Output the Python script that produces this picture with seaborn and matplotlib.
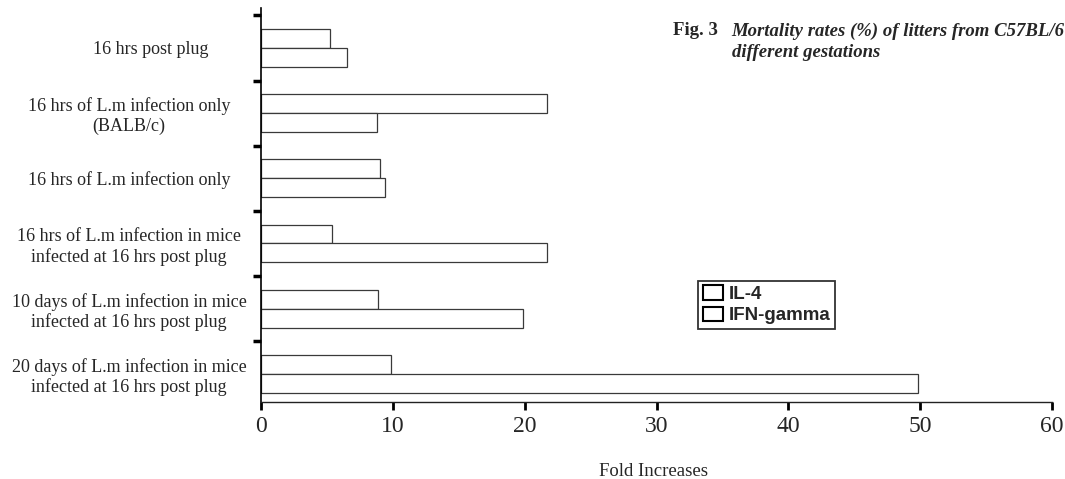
import numpy as np
import pandas as pd
import seaborn as sns
import matplotlib.pyplot as plt
import matplotlib.transforms as mtransforms
from matplotlib.patches import Patch

# values (fold increase)
groups = ["16 hrs post plug",
          "16 hrs of L.m infection only\n(BALB/c)",
          "16 hrs of L.m infection only",
          "16 hrs of L.m infection in mice\ninfected at 16 hrs post plug",
          "10 days of L.m infection in mice\ninfected at 16 hrs post plug",
          "20 days of L.m infection in mice\ninfected at 16 hrs post plug"]
il4 = [5.2, 21.7, 9.0, 5.4, 8.9, 9.9]
ifn = [6.5, 8.8, 9.4, 21.7, 19.9, 49.8]
series = ["IL-4", "IFN-gamma"]

df = pd.DataFrame({
    "group": groups * 2,
    "cytokine": [series[0]] * len(groups) + [series[1]] * len(groups),
    "fold": il4 + ifn,
})

sns.set_style("white")
plt.rcParams["font.family"] = ["Liberation Serif", "DejaVu Serif"]

fig = plt.figure(figsize=(10.65, 4.79), dpi=100)
ax = fig.add_axes([0.245, 0.161, 0.743, 0.822])

sns.barplot(data=df, y="group", x="fold", hue="cytokine", order=groups,
            hue_order=series, orient="h", width=0.58,
            palette={"IL-4": "white", "IFN-gamma": "white"},
            edgecolor="#3a3a3a", linewidth=0.9, legend=False, ax=ax)

ax.set_xlim(0, 60)
ax.set_ylim(5.43, -0.61)
ax.set_xticks(np.arange(0, 61, 10))
ax.set_xticklabels([str(v) for v in range(0, 61, 10)], fontsize=17)
ax.tick_params(axis="x", bottom=True, direction="out", length=6, width=2,
               pad=4, color="black")

# group labels without tick marks, dashes between groups
ax.set_yticks(np.arange(len(groups)))
ax.set_yticklabels(groups, fontsize=13, ha="center", linespacing=1.2)
ax.tick_params(axis="y", left=True, length=0, pad=95)
ax.set_yticks(np.arange(len(groups)) - 0.5, minor=True)
ax.tick_params(axis="y", which="minor", left=True, direction="out",
               length=6, width=2.5, color="black")

# first label sits a little further right in the original
lab0 = ax.get_yticklabels()[0]
lab0.set_transform(lab0.get_transform() +
                   mtransforms.ScaledTranslation(0.22, 0, fig.dpi_scale_trans))

for side in ["top", "right"]:
    ax.spines[side].set_visible(False)
ax.spines["left"].set_color("black")
ax.spines["left"].set_linewidth(1.2)
ax.spines["bottom"].set_color("#222222")
ax.spines["bottom"].set_linewidth(1.0)

ax.set_xlabel("")
ax.set_ylabel("")
fig.text(0.614, 0.006, "Fold Increases", fontsize=13.5, ha="center")

handles = [Patch(facecolor="white", edgecolor="black", linewidth=1.5,
                 label=s) for s in series]
leg = ax.legend(handles=handles, loc="lower left",
                bbox_to_anchor=(0.5525, 0.185), frameon=True,
                fancybox=False, borderpad=0.25, handlelength=1.1,
                handleheight=0.8, handletextpad=0.3, labelspacing=0.2,
                borderaxespad=0,
                prop={"family": "Liberation Sans", "weight": "bold",
                      "size": 13.5})
leg.get_frame().set_edgecolor("black")
leg.get_frame().set_linewidth(1.3)

fig.text(0.632, 0.926, "Fig. 3", fontsize=13.5, fontweight="bold")
fig.text(0.687, 0.926, "Mortality rates (%) of litters from C57BL/6",
         fontsize=13.5, fontweight="bold", style="italic")
fig.text(0.687, 0.880, "different gestations", fontsize=13.5,
         fontweight="bold", style="italic")

fig.savefig("out.png", dpi=100)
